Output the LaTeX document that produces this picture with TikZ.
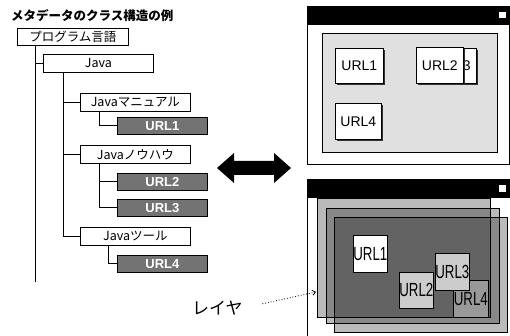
\documentclass[tikz,border=0pt]{standalone}
\usepackage{fontspec}
\usepackage{graphicx}
\setmainfont{Liberation Sans}
\newfontfamily\jpfont{Noto Sans CJK JP}
\usetikzlibrary{shadows,arrows.meta}
\newcommand\narrowlbl[1]{\scalebox{0.7}[1]{#1}}
\begin{document}
\begin{tikzpicture}[x=1pt,y=-1pt,
  treebox/.style={draw, line width=0.7pt, fill=white, minimum width=110pt,
    minimum height=18pt, inner sep=0pt, anchor=north west,
    font=\jpfont\fontsize{12.5}{13}\selectfont,
    drop shadow={shadow xshift=1pt, shadow yshift=-1pt, fill=black, opacity=1}},
  urlbox/.style={treebox, minimum width=90pt, minimum height=17pt,
    fill=black!55, text=white, font=\bfseries\fontsize{13}{13}\selectfont},
  link/.style={line width=0.9pt},
  winbar/.style={fill=black},
  panelurl/.style={draw, line width=0.6pt, fill=white, inner sep=0pt,
    anchor=north west, font=\fontsize{14}{14}\selectfont,
    drop shadow={shadow xshift=2pt, shadow yshift=-2pt, fill=black!80, opacity=1}},
  layer/.style={draw=black, line width=0.6pt, fill=black, fill opacity=0.27},
  layerurl/.style={draw, line width=0.7pt, inner sep=0pt, anchor=north west,
    font=\fontsize{19}{19}\selectfont}
]
\useasboundingbox (0,0) rectangle (510,336);

% ---------- class tree ----------
\node[anchor=west, inner sep=0pt, font=\jpfont\bfseries\fontsize{12.5}{13}\selectfont]
  (title) at (11,16) {メタデータのクラス構造の例};

\node[treebox, minimum width=111pt, minimum height=17pt] (prog) at (17,28) {プログラム言語};
\node[treebox] (java) at (43,54) {Java};
\node[treebox] (manual) at (80,93) {Java\jpfont マニュアル};
\node[urlbox] (url1) at (117,117) {URL1};
\node[treebox] (knowhow) at (80,145) {Java\jpfont ノウハウ};
\node[urlbox] (url2) at (117,173) {URL2};
\node[urlbox] (url3) at (117,199) {URL3};
\node[treebox] (tool) at (80,227) {Java\jpfont ツール};
\node[urlbox] (url4) at (117,255) {URL4};

\coordinate (trunk) at (35,282);
\coordinate (t2) at (63,0);
\coordinate (t3) at (99,0);
\coordinate (t4) at (108,0);

\draw[link] (trunk |- prog.south) -- (trunk);
\draw[link] (trunk |- java.west) -- (java.west);
\draw[link] (t2 |- java.south) |- (tool.west);
\draw[link] (t2 |- manual.west) -- (manual.west);
\draw[link] (t2 |- knowhow.west) -- (knowhow.west);
\draw[link] (t3 |- manual.south) |- (url1.west);
\draw[link] (t3 |- knowhow.south) |- (url3.west);
\draw[link] (t3 |- url2.west) -- (url2.west);
\draw[link] (t4 |- tool.south) |- (url4.west);

% ---------- two-way arrow ----------
\fill (217,168) -- (234,153) -- (234,161) -- (274,161) -- (274,153) -- (291,168)
  -- (274,183) -- (274,175) -- (234,175) -- (234,183) -- cycle;

% ---------- window with flat panel ----------
\draw[line width=0.6pt] (307,6) rectangle (509,164);
\fill[winbar] (307,6) rectangle (510,25);
\fill[white] (499,12) rectangle (506,18);
\draw[line width=0.6pt, fill=black!12] (322,33) rectangle (497,152);
\node[panelurl, minimum width=47pt, minimum height=35pt] (p3) at (429,48) {URL3};
\node[panelurl, minimum width=47pt, minimum height=36pt] (p2) at (416,47) {URL2};
\node[panelurl, minimum width=48pt, minimum height=35pt] (p1) at (335,48) {URL1};
\node[panelurl, minimum width=46pt, minimum height=36pt] (p4) at (335,103) {URL4};

% ---------- window with stacked layers ----------
\fill[winbar] (307,179) rectangle (510,198);
\fill[white] (499,185) rectangle (506,192);
\draw[line width=0.6pt] (307,198) -- (307,336);
\draw[layer] (317,198) rectangle (490,317);
\draw[layer] (326,208) rectangle (499,323);
\draw[layer] (334,217) rectangle (507,332);
\node[layerurl, fill=black!40, minimum width=35pt, minimum height=37pt] (l4) at (453,280) {\narrowlbl{URL4}};
\node[layerurl, fill=black!20, minimum width=34pt, minimum height=37pt] (l3) at (435,253) {\narrowlbl{URL3}};
\node[layerurl, fill=black!20, minimum width=34pt, minimum height=36pt] (l2) at (399,272) {\narrowlbl{URL2}};
\node[layerurl, fill=white, minimum width=34pt, minimum height=37pt] (l1) at (353,235) {\narrowlbl{URL1}};

% ---------- layer label ----------
\node[anchor=west, inner sep=0pt, font=\jpfont\fontsize{17}{17}\selectfont]
  (layerlbl) at (192,308) {レイヤ};
\coordinate (layertip) at (316,292);
\draw[dotted, line width=0.8pt, shorten <=20pt, -{Straight Barb[length=3pt,width=5pt]}]
  (layerlbl.east) -- (layertip);
\end{tikzpicture}
\end{document}
